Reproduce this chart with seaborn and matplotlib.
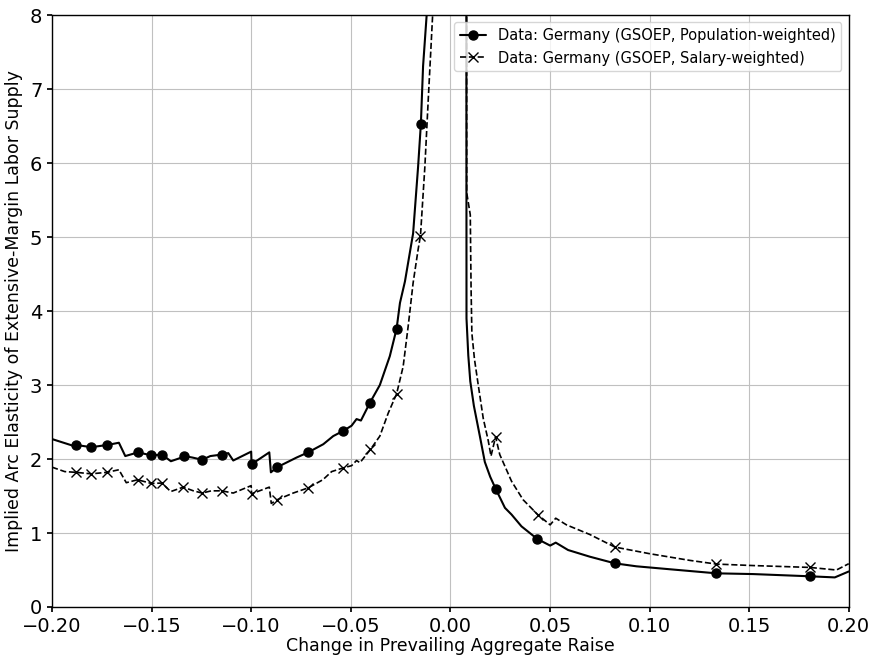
import numpy as np
import pandas as pd
import matplotlib
matplotlib.use("Agg")
import matplotlib.pyplot as plt
import seaborn as sns

# Population-weighted series (GSOEP)
pop_x = [-0.2000, -0.1895, -0.1878, -0.1803, -0.1722, -0.1664, -0.1632, -0.1568,
         -0.1502, -0.1448, -0.1403, -0.1360, -0.1336, -0.1295, -0.1246, -0.1205,
         -0.1148, -0.1115, -0.1090, -0.1000, -0.0998, -0.0909, -0.0901, -0.0869,
         -0.0772, -0.0714, -0.0638, -0.0588, -0.0538, -0.0496, -0.0471, -0.0449,
         -0.0404, -0.0354, -0.0304, -0.0270, -0.0253, -0.0228, -0.0187, -0.0162,
         -0.0148, -0.0137, -0.0119, -0.0108,
         0.0078, 0.0081, 0.0090, 0.0100, 0.0118, 0.0148, 0.0173, 0.0200, 0.0227,
         0.0274, 0.0307, 0.0357, 0.0436, 0.0501, 0.0529, 0.0591, 0.0700, 0.0826,
         0.0934, 0.1102, 0.1336, 0.1520, 0.1804, 0.1930, 0.2000]
pop_y = [2.27, 2.18, 2.19, 2.16, 2.19, 2.22, 2.04, 2.09,
         2.05, 2.06, 1.97, 2.01, 2.04, 2.02, 1.99, 2.04,
         2.06, 2.08, 1.98, 2.10, 1.93, 2.09, 1.82, 1.89,
         2.02, 2.09, 2.20, 2.31, 2.38, 2.45, 2.54, 2.52,
         2.76, 3.00, 3.39, 3.76, 4.11, 4.40, 5.05, 5.95,
         6.53, 7.31, 8.00, 10.50,
         25.0, 3.90, 3.40, 3.05, 2.72, 2.31, 1.96, 1.76, 1.60,
         1.34, 1.25, 1.09, 0.92, 0.83, 0.87, 0.77, 0.68, 0.59,
         0.55, 0.51, 0.455, 0.445, 0.415, 0.40, 0.48]
pop_marked = [-0.1878, -0.1803, -0.1722, -0.1568, -0.1502, -0.1448, -0.1336,
              -0.1246, -0.1148, -0.0998, -0.0869, -0.0714, -0.0538, -0.0404,
              -0.0270, -0.0148, 0.0227, 0.0436, 0.0826, 0.1336, 0.1804]

# Salary-weighted series (GSOEP)
sal_x = [-0.2000, -0.1936, -0.1880, -0.1803, -0.1724, -0.1664, -0.1627, -0.1570,
         -0.1502, -0.1448, -0.1404, -0.1341, -0.1290, -0.1246, -0.1200, -0.1148,
         -0.1090, -0.1000, -0.0998, -0.0909, -0.0899, -0.0869, -0.0789, -0.0714,
         -0.0640, -0.0596, -0.0538, -0.0496, -0.0471, -0.0454, -0.0401, -0.0354,
         -0.0312, -0.0270, -0.0237, -0.0212, -0.0187, -0.0162, -0.0150, -0.0128,
         -0.0111, -0.0098, -0.0089, -0.0080,
         0.0078, 0.0082, 0.0100, 0.0104, 0.0108, 0.0121, 0.0140, 0.0165, 0.0190,
         0.0204, 0.0227, 0.0248, 0.0307, 0.0365, 0.0438, 0.0501, 0.0529, 0.0583,
         0.0700, 0.0826, 0.1001, 0.1202, 0.1336, 0.1520, 0.1804, 0.1938, 0.2000]
sal_y = [1.89, 1.83, 1.82, 1.80, 1.82, 1.855, 1.68, 1.72,
         1.67, 1.675, 1.56, 1.62, 1.57, 1.54, 1.57, 1.57,
         1.54, 1.64, 1.53, 1.62, 1.40, 1.45, 1.54, 1.61,
         1.72, 1.83, 1.88, 1.91, 1.98, 1.95, 2.13, 2.31,
         2.62, 2.88, 3.25, 3.79, 4.38, 4.83, 5.02, 5.95,
         6.86, 7.53, 8.00, 10.50,
         25.0, 5.60, 5.30, 4.30, 3.70, 3.35, 3.00, 2.55, 2.25,
         2.04, 2.30, 2.06, 1.70, 1.45, 1.25, 1.11, 1.20, 1.11,
         0.98, 0.81, 0.72, 0.63, 0.58, 0.56, 0.535, 0.50, 0.585]
sal_marked = [-0.1880, -0.1803, -0.1724, -0.1570, -0.1502, -0.1448, -0.1341,
              -0.1246, -0.1148, -0.0998, -0.0869, -0.0714, -0.0538, -0.0401,
              -0.0270, -0.0150, 0.0227, 0.0438, 0.0826, 0.1336, 0.1804]

x_ticks = [-0.20, -0.15, -0.10, -0.05, 0.00, 0.05, 0.10, 0.15, 0.20]
y_ticks = [0, 1, 2, 3, 4, 5, 6, 7, 8]

sns.set_theme(style="whitegrid")
plt.rcParams.update({
    "font.family": ["DejaVu Sans"],
    "text.color": "black",
    "axes.labelcolor": "black",
    "axes.edgecolor": "black",
    "axes.linewidth": 1.0,
    "grid.color": "#c0c0c0",
    "grid.linewidth": 0.8,
    "xtick.bottom": True,
    "ytick.left": True,
    "xtick.major.size": 3.5,
    "ytick.major.size": 3.5,
    "xtick.color": "black",
    "ytick.color": "black",
})

fig, ax = plt.subplots(figsize=(8.75, 6.56), dpi=100)
fig.subplots_adjust(left=0.0594, right=0.970, top=0.977, bottom=0.0747)

pop = pd.DataFrame({"x": pop_x, "y": pop_y})
sal = pd.DataFrame({"x": sal_x, "y": sal_y})
pop_idx = [int(np.argmin(np.abs(np.array(pop_x) - v))) for v in pop_marked]
sal_idx = [int(np.argmin(np.abs(np.array(sal_x) - v))) for v in sal_marked]

sns.lineplot(data=pop, x="x", y="y", ax=ax, estimator=None, sort=False,
             color="black", linewidth=1.5, linestyle="-", marker="o",
             markersize=6.5, markevery=pop_idx, markeredgecolor="black",
             markeredgewidth=1.0,
             label="Data: Germany (GSOEP, Population-weighted)")
sns.lineplot(data=sal, x="x", y="y", ax=ax, estimator=None, sort=False,
             color="black", linewidth=1.2, linestyle="--", marker="x",
             markersize=7, markevery=sal_idx, markeredgecolor="black",
             markeredgewidth=1.0,
             label="Data: Germany (GSOEP, Salary-weighted)")

ax.set_xlim(-0.20, 0.20)
ax.set_ylim(0, 8)
ax.set_xticks(x_ticks)
ax.set_yticks(y_ticks)
ax.set_xticklabels([f"{t:.2f}".replace("-", "\u2212") for t in x_ticks], fontsize=14)
ax.set_yticklabels([str(t) for t in y_ticks], fontsize=14)
ax.set_xlabel("Change in Prevailing Aggregate Raise", fontsize=12.5, labelpad=1,
              color="black")
ax.set_ylabel("Implied Arc Elasticity of Extensive-Margin Labor Supply", fontsize=12.5,
              labelpad=5, color="black")
ax.grid(True, which="major", color="#c0c0c0", linewidth=0.8)
for s in ax.spines.values():
    s.set_color("black")
    s.set_visible(True)

leg = ax.legend(loc="upper right", fontsize=10.5, frameon=True, framealpha=0.8,
                edgecolor="#cccccc", fancybox=True, handlelength=1.8)
for t in leg.get_texts():
    t.set_color("black")

fig.savefig("out.png", dpi=100)
